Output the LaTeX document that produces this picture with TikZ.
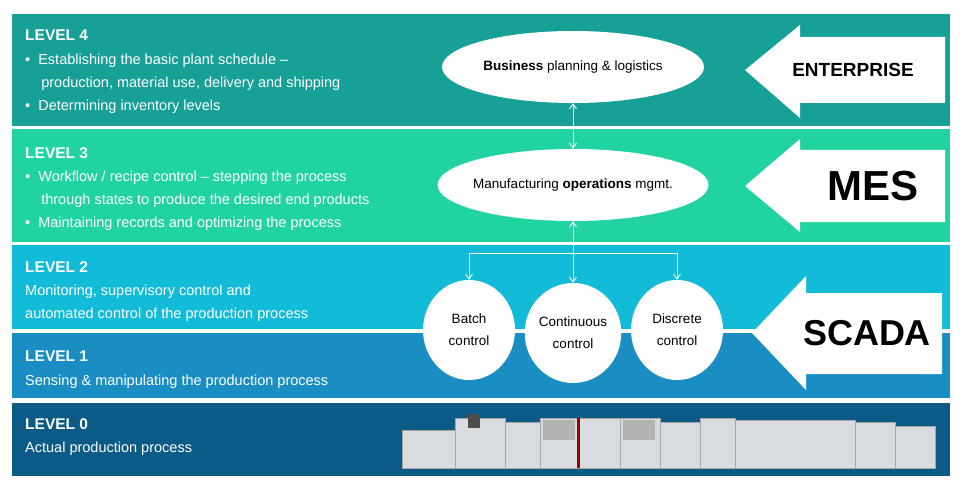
\documentclass[tikz,border=0pt]{standalone}
\usepackage{fontspec}
\setmainfont{Liberation Sans}
\usetikzlibrary{shapes.geometric,positioning,arrows.meta}

\definecolor{lvfour}{HTML}{17A096}
\definecolor{lvthree}{HTML}{22D3A2}
\definecolor{lvtwo}{HTML}{12BBD8}
\definecolor{lvone}{HTML}{1A8EC3}
\definecolor{lvzero}{HTML}{0C5B86}
\definecolor{machine}{HTML}{D9DCDF}

\tikzset{
  lvl/.style={anchor=north west, text=white, font=\bfseries\fontsize{15.5}{18}\selectfont, inner sep=0pt},
  desc/.style={anchor=north west, text=white, font=\fontsize{14.5}{23}\selectfont, inner sep=0pt, align=left},
  oval/.style={ellipse, fill=white, minimum width=262pt, minimum height=72pt, font=\fontsize{13.5}{16}\selectfont, inner sep=-4pt},
  ctl/.style={ellipse, fill=white, minimum width=92pt, minimum height=100pt, font=\fontsize{13.5}{22}\selectfont, align=center, inner sep=0pt},
  bigarrow/.style={fill=white},
  conn/.style={white, line width=0.9pt, -{Straight Barb[length=5pt,width=7pt]}},
}

\begin{document}
\begin{tikzpicture}[x=1pt,y=-1pt]
  \useasboundingbox (0,0) rectangle (976,489);
  % level bands
  \fill[lvfour]  (12,14)  rectangle (950,126);
  \fill[lvthree] (12,129) rectangle (950,242);
  \fill[lvtwo]   (12,245) rectangle (950,329);
  \fill[lvone]   (12,333) rectangle (950,398);
  \fill[lvzero]  (12,403) rectangle (950,476);

  % level texts
  \node[lvl] (l4) at (25,30) {LEVEL 4};
  \node[desc] (d4) at (25,54) {\textbullet\ \ Establishing the basic plant schedule --\\\ \ \ \ production, material use, delivery and shipping\\\textbullet\ \ Determining inventory levels};
  \node[lvl] (l3) at (25,147) {LEVEL 3};
  \node[desc] (d3) at (25,171) {\textbullet\ \ Workflow / recipe control -- stepping the process\\\ \ \ \ through states to produce the desired end products\\\textbullet\ \ Maintaining records and optimizing the process};
  \node[lvl] (l2) at (25,261) {LEVEL 2};
  \node[desc] (d2) at (25,285) {Monitoring, supervisory control and\\automated control of the production process};
  \node[lvl] (l1) at (25,351) {LEVEL 1};
  \node[desc] (d1) at (25,375) {Sensing \& manipulating the production process};
  \node[lvl] (l0) at (25,418) {LEVEL 0};
  \node[desc] (d0) at (25,442) {Actual production process};

  % production line (simplified)
  \foreach \xa/\xb/\ya in {402/455/430, 455/505/418, 505/540/422, 540/578/418, 578/620/418, 620/660/418, 660/700/422, 700/735/418, 735/855/420, 855/895/422, 895/935/426}
    \fill[machine, draw=gray!70] (\xa,\ya) rectangle (\xb,468);
  \fill[gray!60] (543,420) rectangle (575,440);
  \fill[gray!60] (623,420) rectangle (655,440);
  \fill[black!70] (468,414) rectangle (480,428);
  \fill[red!60!black] (577,418) rectangle (580,468);

  % entity arrows
  \fill[bigarrow] (745,70) -- (800,25) -- (800,37) -- (945,37) -- (945,103) -- (800,103) -- (800,118) -- cycle;
  \fill[bigarrow] (745,186) -- (800,139) -- (800,150) -- (945,150) -- (945,222) -- (800,222) -- (800,232) -- cycle;
  \fill[bigarrow] (752,333) -- (806,276) -- (806,293) -- (942,293) -- (942,374) -- (806,374) -- (806,390) -- cycle;
  \node[font=\bfseries\fontsize{19}{22}\selectfont] (ent) at (853,70) {ENTERPRISE};
  \node[font=\bfseries\fontsize{42}{46}\selectfont] (mes) at (873,186) {MES};
  \node[font=\bfseries\fontsize{36}{40}\selectfont] (scada) at (867,333) {SCADA};

  % planning and operations
  \node[oval] (biz) at (573,67) {\textbf{Business} planning \& logistics};
  \node[oval] (mom) at (573,185) {Manufacturing \textbf{operations} mgmt.};
  \node[ctl] (batch) at (469,330) {Batch\\control};
  \node[ctl] (cont) at (573,333) {Continuous\\control};
  \node[ctl] (disc) at (677,330) {Discrete\\control};

  \coordinate (split) at (573,253);
  \draw[conn, {Straight Barb[length=5pt,width=7pt]}-{Straight Barb[length=5pt,width=7pt]}] (biz) -- (mom);
  \draw[conn, {Straight Barb[length=5pt,width=7pt]}-{Straight Barb[length=5pt,width=7pt]}] (mom) -- (cont);
  \draw[conn] (split) -| (batch);
  \draw[conn] (split) -| (disc);
\end{tikzpicture}
\end{document}
